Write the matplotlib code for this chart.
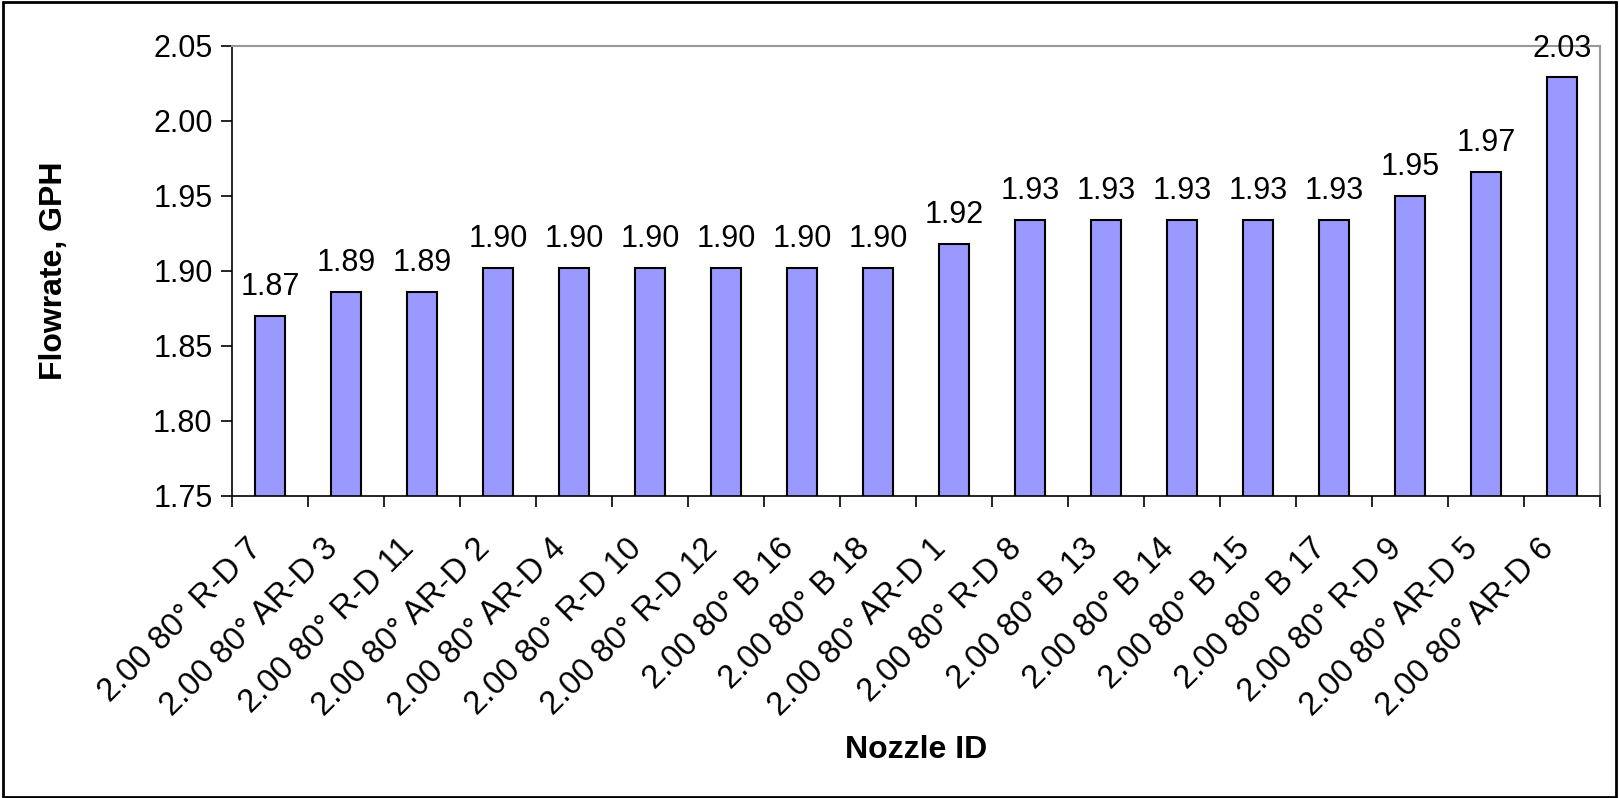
import numpy as np
import matplotlib
matplotlib.use("Agg")
import matplotlib.pyplot as plt
import matplotlib.transforms as mtransforms
from matplotlib.patches import Rectangle

plt.rcParams['font.family'] = ['Liberation Sans', 'DejaVu Sans']

## data
nozzles = ["2.00 80° R-D 7", "2.00 80° AR-D 3", "2.00 80° R-D 11", "2.00 80° AR-D 2",
           "2.00 80° AR-D 4", "2.00 80° R-D 10", "2.00 80° R-D 12", "2.00 80° B 16",
           "2.00 80° B 18", "2.00 80° AR-D 1", "2.00 80° R-D 8", "2.00 80° B 13",
           "2.00 80° B 14", "2.00 80° B 15", "2.00 80° B 17", "2.00 80° R-D 9",
           "2.00 80° AR-D 5", "2.00 80° AR-D 6"]
flowrate = [1.870, 1.886, 1.886, 1.902, 1.902, 1.902, 1.902, 1.902, 1.902,
            1.918, 1.934, 1.934, 1.934, 1.934, 1.934, 1.950, 1.966, 2.029]
yticks = [1.75, 1.80, 1.85, 1.90, 1.95, 2.00, 2.05]

fig = plt.figure(figsize=(16.19, 7.98), dpi=100)
ax = fig.add_axes([232/1619, 1 - 496/798, 1368/1619, 450/798])

x = np.arange(len(nozzles))
ax.bar(x, flowrate, width=0.4, color="#9999FF", edgecolor="black", linewidth=1.5)
ax.set_ylim(1.75, 2.05)
ax.set_xlim(-0.5, len(nozzles) - 0.5)

for xi, v in zip(x, flowrate):
    ax.annotate(f"{v:.2f}", (xi, v), xytext=(0, 10), textcoords="offset points",
                ha="center", va="bottom", fontsize=22, clip_on=False)

ax.set_yticks(yticks)
ax.set_yticklabels([f"{t:.2f}" for t in yticks], fontsize=22)
ax.tick_params(axis="y", direction="out", length=8, width=1.2, pad=6)

ax.set_xticks(x)
ax.set_xticklabels(nozzles, rotation=45, ha="right", va="center",
                   rotation_mode="anchor", fontsize=23.5)
ax.set_xticks(np.arange(len(nozzles) + 1) - 0.5, minor=True)
ax.tick_params(axis="x", which="major", length=0, pad=30)
ax.tick_params(axis="x", which="minor", direction="out", length=8, width=1.2)

# nudge the slanted labels a little left and down
shift = mtransforms.ScaledTranslation(-0.13, -0.06, fig.dpi_scale_trans)
for lab in ax.get_xticklabels():
    lab.set_transform(lab.get_transform() + shift)

ax.spines["left"].set_color("black")
ax.spines["bottom"].set_color("black")
ax.spines["left"].set_linewidth(1.2)
ax.spines["bottom"].set_linewidth(1.2)
ax.spines["top"].set_color("#999999")
ax.spines["right"].set_color("#999999")
ax.spines["top"].set_linewidth(1.5)
ax.spines["right"].set_linewidth(1.5)

ax.set_ylabel("Flowrate, GPH", fontsize=23, fontweight="bold")
ax.set_xlabel("Nozzle ID", fontsize=23, fontweight="bold")
ax.yaxis.set_label_coords(-0.119, 0.5)
ax.xaxis.set_label_coords(0.5, -0.531)

## border round the whole chart
fig.patches.append(Rectangle((0.002, 0.001), 0.996, 0.997, transform=fig.transFigure,
                             fill=False, edgecolor="black", linewidth=2))

fig.savefig("out.png", dpi=100)
